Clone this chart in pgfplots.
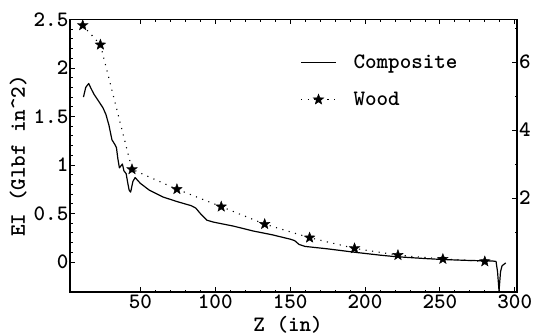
\documentclass[border=0pt]{standalone}
\usepackage{fontspec}
\usepackage{pgfplots}
\pgfplotsset{compat=1.18}

% filled five-pointed star used for the Wood series
\pgfdeclareplotmark{fstar}{%
  \pgfpathmoveto{\pgfpointpolar{90}{\pgfplotmarksize}}%
  \pgfpathlineto{\pgfpointpolar{126}{0.42\pgfplotmarksize}}%
  \pgfpathlineto{\pgfpointpolar{162}{\pgfplotmarksize}}%
  \pgfpathlineto{\pgfpointpolar{198}{0.42\pgfplotmarksize}}%
  \pgfpathlineto{\pgfpointpolar{234}{\pgfplotmarksize}}%
  \pgfpathlineto{\pgfpointpolar{270}{0.42\pgfplotmarksize}}%
  \pgfpathlineto{\pgfpointpolar{306}{\pgfplotmarksize}}%
  \pgfpathlineto{\pgfpointpolar{342}{0.42\pgfplotmarksize}}%
  \pgfpathlineto{\pgfpointpolar{18}{\pgfplotmarksize}}%
  \pgfpathlineto{\pgfpointpolar{54}{0.42\pgfplotmarksize}}%
  \pgfpathclose
  \pgfusepathqfillstroke}

\newcommand\eifont{\ttfamily\bfseries\fontsize{22bp}{24bp}\selectfont}

\pgfplotsset{
  eiaxis/.style={
    scale only axis, width=447bp, height=272.5bp,
    xmin=3, xmax=301.5,
    axis line style={line width=1.2bp},
    tick align=inside,
    major tick length=5bp, minor tick length=2.5bp,
    every tick/.style={black, line width=0.8bp},
    tick label style={font=\eifont},
    label style={font=\eifont},
    /pgf/number format/assume math mode=true,
  },
  % legend samples: a plain line, and a dotted line with one star
  complegend/.style={legend image code/.code={
    \draw[##1] (0bp,0bp) -- (35bp,0bp);}},
  woodlegend/.style={legend image code/.code={
    \draw[##1, mark=none] (0bp,0bp) -- (35bp,0bp);
    \draw[##1] plot coordinates {(17.5bp,0bp)};}},
}

\begin{document}
\begin{tikzpicture}
\useasboundingbox (0,0) rectangle (534bp,336bp);

\begin{axis}[eiaxis,
  at={(70bp,44bp)}, anchor=south west,
  ymin=-0.31, ymax=2.5,
  xtick={50,100,150,200,250,300},
  minor x tick num=4,
  ytick={0,0.5,1,1.5,2,2.5},
  yticklabels={0,0.5,1,1.5,2,2.5},
  minor y tick num=4,
  xtick pos=both, ytick pos=left,
  xticklabel pos=bottom,
  yticklabel style={inner sep=1.5bp},
  xticklabel style={inner sep=3bp},
  xlabel={Z (in)},
  ylabel={EI (Glbf in\textasciicircum2)},
  xlabel style={at={(axis description cs:0.488,-0.121)}, anchor=center},
  ylabel style={at={(axis description cs:-0.116,0.5)}, anchor=center},
  legend style={draw=none, fill=none, at={(axis description cs:0.515,0.878)},
    anchor=north west, inner sep=0pt, row sep=18bp, column sep=15bp,
    font=\eifont,
    cells={anchor=west}},
  legend cell align=left,
]

% Composite
\addplot[black, line width=1.2bp, line join=round, complegend]
coordinates {
(12,1.70) (13.5,1.80) (15.5,1.84) (17,1.79) (19,1.73) (22,1.66) (25,1.59)
(27,1.52) (29,1.41) (31,1.26) (33,1.21) (34,1.18) (35,1.06) (36,0.97)
(37,0.99) (38,1.01) (39,0.94) (40.5,0.91) (41.5,0.82) (42.5,0.74)
(43.5,0.72) (45,0.83) (46.5,0.87) (50,0.81) (56,0.74) (65,0.67)
(75,0.62) (84,0.58) (87,0.555) (90,0.50) (94.5,0.43) (99,0.41)
(112,0.37) (125,0.32) (138,0.28) (150,0.235) (153,0.22) (156,0.18)
(160,0.16) (175,0.135) (193,0.10) (210,0.07) (220,0.055) (240,0.035)
(252,0.025) (270,0.015) (285,0.01) (287.5,0.005) (288.5,-0.10)
(289.5,-0.30) (290.5,-0.10) (291.5,-0.04) (294,-0.01)
};
\addlegendentry{Composite}

% Wood
\addplot[black, line width=1.1bp, dash pattern=on 1.1bp off 5.5bp,
  mark=fstar, mark size=5.5bp, mark options={solid, line width=0.4bp},
  woodlegend]
coordinates {
(11.5,2.44) (23.3,2.24) (44.4,0.955) (74.4,0.75) (104,0.57) (133,0.39)
(163,0.25) (193,0.14) (222,0.07) (252,0.03) (280,0.005)
};
\addlegendentry{Wood}
\end{axis}

% right-hand scale
\begin{axis}[eiaxis,
  at={(70bp,44bp)}, anchor=south west,
  axis x line=none, axis y line*=right,
  ymin=-0.76, ymax=7.25,
  ytick={2,4,6}, minor ytick={1,3,5,7},
  yticklabel style={inner sep=2bp},
]
\addplot[draw=none] coordinates {(10,0)};
\end{axis}
\end{tikzpicture}
\end{document}
